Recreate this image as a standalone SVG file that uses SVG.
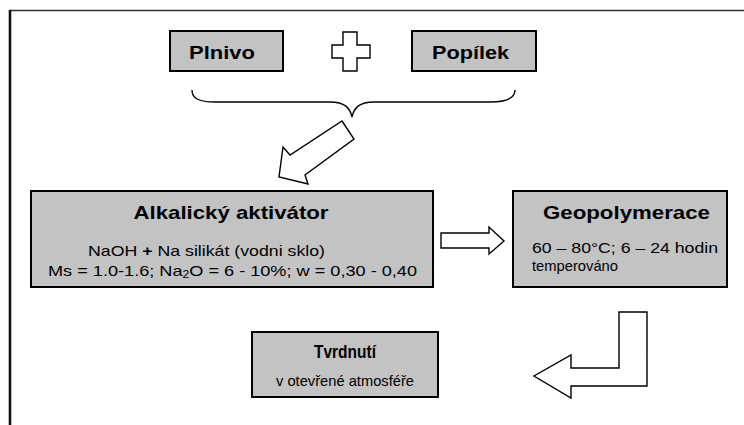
<svg xmlns="http://www.w3.org/2000/svg" width="744" height="425" viewBox="0 0 744 425">
<style>
.box{fill:#c3c3c3;stroke:#000;stroke-width:2}
.arr{fill:#fff;stroke:#000;stroke-width:1.4;stroke-linejoin:miter}
text{font-family:"Liberation Sans",Arial,sans-serif;fill:#000}
.t{font-weight:bold;font-size:19px}
.s{font-size:15px}
</style>
<rect width="744" height="425" fill="#fff"/>
<g id="frame">
<line x1="9" y1="10.5" x2="744" y2="10.5" stroke="#333" stroke-width="1.6"/>
<line x1="10" y1="10" x2="10" y2="425" stroke="#111" stroke-width="2.6"/>
</g>
<g id="plnivo">
<rect class="box" x="170" y="31" width="113" height="40"/>
<text class="t" x="189" y="59" textLength="66" lengthAdjust="spacingAndGlyphs">Plnivo</text>
</g>
<g id="plus">
<polygon class="arr" points="343,32 357,32 357,45 370,45 370,58 357,58 357,71 343,71 343,58 332,58 332,45 343,45"/>
</g>
<g id="popilek">
<rect class="box" x="412" y="31" width="124" height="40"/>
<text class="t" x="432" y="59" textLength="77" lengthAdjust="spacingAndGlyphs">Popílek</text>
</g>
<g id="aktivator">
<rect class="box" x="31" y="191" width="402" height="96"/>
<text class="t" x="231" y="219" text-anchor="middle" font-size="20" textLength="195" lengthAdjust="spacingAndGlyphs">Alkalický aktivátor</text>
<text class="s" x="88" y="256" textLength="237" lengthAdjust="spacingAndGlyphs">NaOH <tspan font-weight="bold">+</tspan> Na silikát (vodni sklo)</text>
<text class="s" x="48" y="276" textLength="369" lengthAdjust="spacingAndGlyphs">Ms = 1.0-1.6; Na<tspan font-size="10" dy="2">2</tspan><tspan dy="-2">O = 6 - 10%; w = 0,30 - 0,40</tspan></text>
</g>
<g id="geopolymerace">
<rect class="box" x="513" y="191" width="214" height="96"/>
<text class="t" x="543" y="219" textLength="167" lengthAdjust="spacingAndGlyphs">Geopolymerace</text>
<text class="s" x="532" y="253" textLength="186" lengthAdjust="spacingAndGlyphs">60 – 80°C; 6 – 24 hodin</text>
<text class="s" x="532" y="271" textLength="86" lengthAdjust="spacingAndGlyphs">temperováno</text>
</g>
<g id="tvrdnuti">
<rect class="box" x="252" y="332" width="186" height="65"/>
<text class="t" x="345" y="358" text-anchor="middle" font-size="18" textLength="62" lengthAdjust="spacingAndGlyphs">Tvrdnutí</text>
<text class="s" x="345" y="386" text-anchor="middle" font-size="14" textLength="138" lengthAdjust="spacingAndGlyphs">v otevřené atmosféře</text>
</g>
<g id="connectors">
<path d="M192,90 C192,98 198,102 215,102 L330,102 C345,102 350,108 352,117 C354,108 359,102 374,102 L490,102 C507,102 515,98 515,90" fill="none" stroke="#000" stroke-width="1.4"/>
<polygon class="arr" points="342,121 354,139 305,175 308,184 279,177 283,147 290,155"/>
<polygon class="arr" points="441,233 489,233 489,227 504,241 489,254 489,248 441,248"/>
<polygon class="arr" points="619,312 647,312 647,386 571,386 571,398 534,376 571,355 571,368 619,368"/>
</g>
</svg>
